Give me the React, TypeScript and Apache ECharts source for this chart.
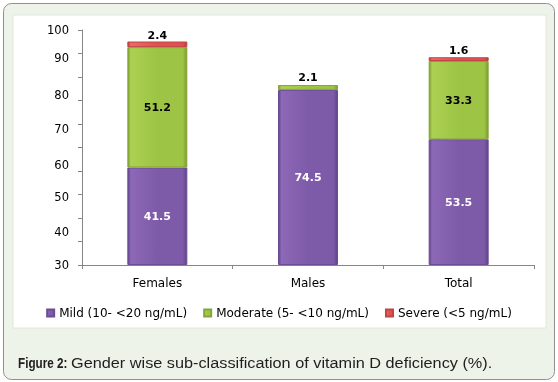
import React, { useEffect, useRef } from "react";
import * as echarts from "echarts";

const categories = ["Females", "Males", "Total"];
const mildValues = [41.5, 74.5, 53.5];
const moderateValues = [51.2, 2.1, 33.3];
const severeValues: (number | null)[] = [2.4, null, 1.6];
const seriesNames = ["Mild (10- <20 ng/mL)", "Moderate (5- <10 ng/mL)", "Severe (<5 ng/mL)"];
const yTickLabels = ["30", "40", "50", "60", "70", "80", "90", "100"];
const yTickLabelValues = [0, 14, 29, 42.5, 58, 72.5, 88, 100];
const yTickValues = [0, 10, 20, 30, 40, 50, 60, 70, 80, 90, 100];
const captionBold = "Figure 2:";
const captionText = "Gender wise sub-classification of vitamin D deficiency (%).";

const FONT = "DejaVu Sans";

function barGradient(edge: string, light: string, mid: string) {
  return new echarts.graphic.LinearGradient(0, 0, 1, 0, [
    { offset: 0, color: edge },
    { offset: 0.05, color: light },
    { offset: 0.5, color: mid },
    { offset: 0.93, color: mid },
    { offset: 1, color: edge },
  ]);
}

export default function App() {
  const ref = useRef<HTMLDivElement>(null);
  useEffect(() => {
    if (!ref.current) return;
    const chart = echarts.init(ref.current, null, { renderer: "svg" });
    const purple = barGradient("#5f4489", "#8c68b6", "#7e5ba8");
    const green = barGradient("#7d9c30", "#acd152", "#9ec445");
    const red = barGradient("#b83a3a", "#ec6a6a", "#e05050");
    const boldLabel = { fontFamily: FONT, fontSize: 11, fontWeight: "bold" as const };
    chart.setOption({
      animation: false,
      graphic: [
        {
          type: "rect",
          z: -100,
          silent: true,
          shape: { x: 3.5, y: 3.5, width: 551, height: 376, r: 8 },
          style: { fill: "#eef3e9", stroke: "#8f8f8f", lineWidth: 1 },
        },
        {
          type: "rect",
          z: -99,
          silent: true,
          shape: { x: 13, y: 15, width: 533, height: 313 },
          style: { fill: "#ffffff", stroke: "#e2e6de", lineWidth: 1 },
        },
        {
          type: "text",
          x: 18,
          y: 363,
          scaleX: 0.78,
          style: {
            text: captionBold,
            fontFamily: "Liberation Sans",
            fontSize: 15,
            fontWeight: "bold",
            fill: "#1e1e1e",
            verticalAlign: "middle",
          },
        },
        {
          type: "text",
          x: 71,
          y: 363,
          scaleX: 1.085,
          style: {
            text: captionText,
            fontFamily: "Liberation Sans",
            fontSize: 15,
            fill: "#1e1e1e",
            verticalAlign: "middle",
          },
        },
      ],
      legend: {
        top: 302,
        left: "center",
        itemWidth: 7,
        itemHeight: 7,
        itemGap: 16,
        icon: "rect",
        textStyle: { fontFamily: FONT, fontSize: 12, color: "#000" },
        data: seriesNames,
      },
      grid: { left: 82, right: 24, top: 30, bottom: 117, outerBoundsMode: "none" },
      xAxis: {
        type: "category",
        data: categories,
        axisLine: { lineStyle: { color: "#868686" } },
        axisTick: { show: true, alignWithLabel: false, length: 4, lineStyle: { color: "#868686" } },
        axisLabel: { fontFamily: FONT, fontSize: 12, color: "#000", margin: 12 },
      },
      yAxis: {
        type: "value",
        min: 0,
        max: 100,
        interval: 10,
        splitLine: { show: false },
        axisLine: { show: true, lineStyle: { color: "#868686" } },
        axisTick: { show: true, length: 4, customValues: yTickValues, lineStyle: { color: "#868686" } },
        axisLabel: {
          fontFamily: FONT,
          fontSize: 11.5,
          color: "#000",
          margin: 13,
          customValues: yTickLabelValues,
          formatter: (v: number) => {
            const i = yTickLabelValues.indexOf(v);
            return i >= 0 ? yTickLabels[i] : "";
          },
        },
      },
      series: [
        {
          name: seriesNames[0],
          type: "bar",
          stack: "total",
          barWidth: 60,
          data: mildValues,
          itemStyle: { color: purple, borderColor: "#6a4d94", borderWidth: 1 },
          label: { show: true, position: "inside", color: "#fff", ...boldLabel },
        },
        {
          name: seriesNames[1],
          type: "bar",
          stack: "total",
          barWidth: 60,
          data: moderateValues.map((v, i) =>
            severeValues[i] == null ? { value: v, label: { position: "top", distance: 2 } } : v
          ),
          itemStyle: { color: green, borderColor: "#86a53a", borderWidth: 1 },
          label: { show: true, position: "inside", color: "#000", ...boldLabel },
        },
        {
          name: seriesNames[2],
          type: "bar",
          stack: "total",
          barWidth: 60,
          data: severeValues,
          itemStyle: { color: red, borderColor: "#c04444", borderWidth: 1 },
          label: { show: true, position: "top", distance: 1, color: "#000", ...boldLabel },
        },
      ],
    });
    return () => chart.dispose();
  }, []);
  return (
    <div
      ref={ref}
      style={{ position: "fixed", left: 0, top: 0, width: 558, height: 382 }}
    />
  );
}
